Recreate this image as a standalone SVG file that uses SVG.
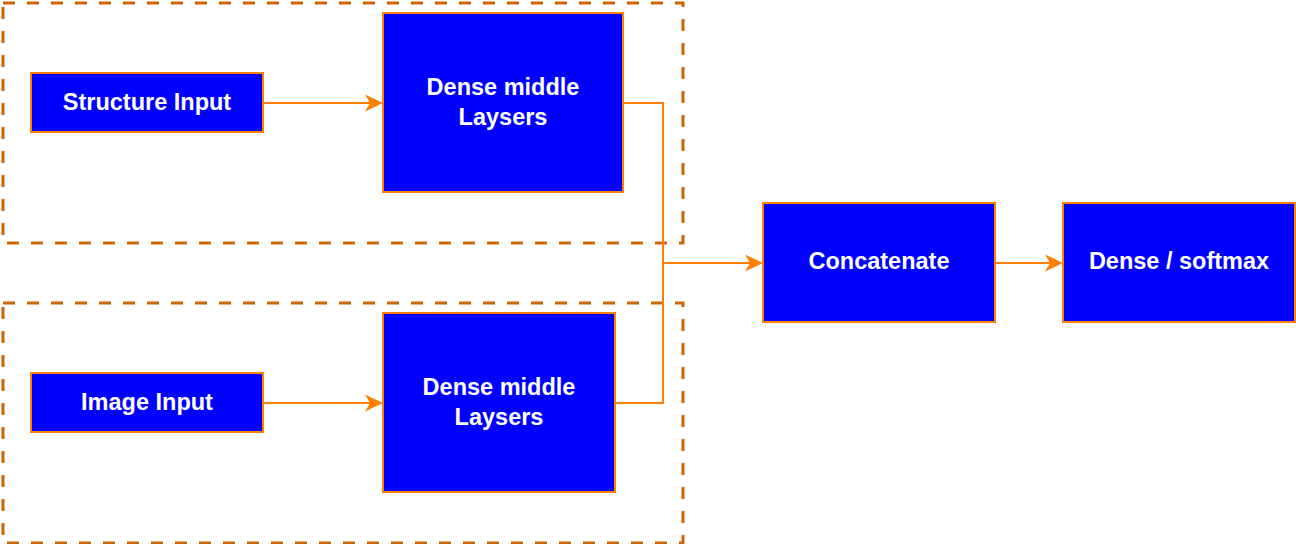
<svg xmlns="http://www.w3.org/2000/svg" width="1296" height="544" viewBox="0 0 1296 544">
<defs>
<marker id="arr" viewBox="0 0 18 18" refX="5" refY="9" markerWidth="18" markerHeight="18" markerUnits="userSpaceOnUse" orient="auto">
<path d="M0,0.5 L18,9 L0,17.5 L5,9 Z" fill="#FF8000"/>
</marker>
<style>
.grp{fill:none;stroke:#CC6600;stroke-width:3;stroke-dasharray:12 12}
.node{fill:#0000FF;stroke:#FF8000;stroke-width:2}
.lbl{font-family:"Liberation Sans",Arial,sans-serif;font-weight:bold;font-size:23.5px;fill:#FFFFFF;text-anchor:middle;dominant-baseline:central}
.edge{fill:none;stroke:#FF8000;stroke-width:2}
</style>
</defs>
<rect width="1296" height="544" fill="#FFFFFF"/>
<g id="group-top"><rect class="grp" x="3" y="3" width="680" height="240"/></g>
<g id="group-bottom"><rect class="grp" x="3" y="303" width="680" height="240"/></g>
<g id="connectors">
<path class="edge" d="M263,103 H370" marker-end="url(#arr)"/>
<path class="edge" d="M263,403 H370" marker-end="url(#arr)"/>
<path class="edge" d="M623,103 H663 V263 H750" marker-end="url(#arr)"/>
<path class="edge" d="M615,403 H663 V263"/>
<path class="edge" d="M995,263 H1050" marker-end="url(#arr)"/>
</g>
<g id="structure-input"><rect class="node" x="31" y="73" width="232" height="59"/><text class="lbl" x="147" y="102">Structure Input</text></g>
<g id="dense-middle-1"><rect class="node" x="383" y="13" width="240" height="179"/><text class="lbl" x="503" y="87">Dense middle</text><text class="lbl" x="503" y="117">Laysers</text></g>
<g id="image-input"><rect class="node" x="31" y="373" width="232" height="59"/><text class="lbl" x="147" y="402">Image Input</text></g>
<g id="dense-middle-2"><rect class="node" x="383" y="313" width="232" height="179"/><text class="lbl" x="499" y="387">Dense middle</text><text class="lbl" x="499" y="417">Laysers</text></g>
<g id="concatenate"><rect class="node" x="763" y="203" width="232" height="119"/><text class="lbl" x="879" y="261">Concatenate</text></g>
<g id="dense-softmax"><rect class="node" x="1063" y="203" width="232" height="119"/><text class="lbl" x="1179" y="261">Dense / softmax</text></g>
</svg>
